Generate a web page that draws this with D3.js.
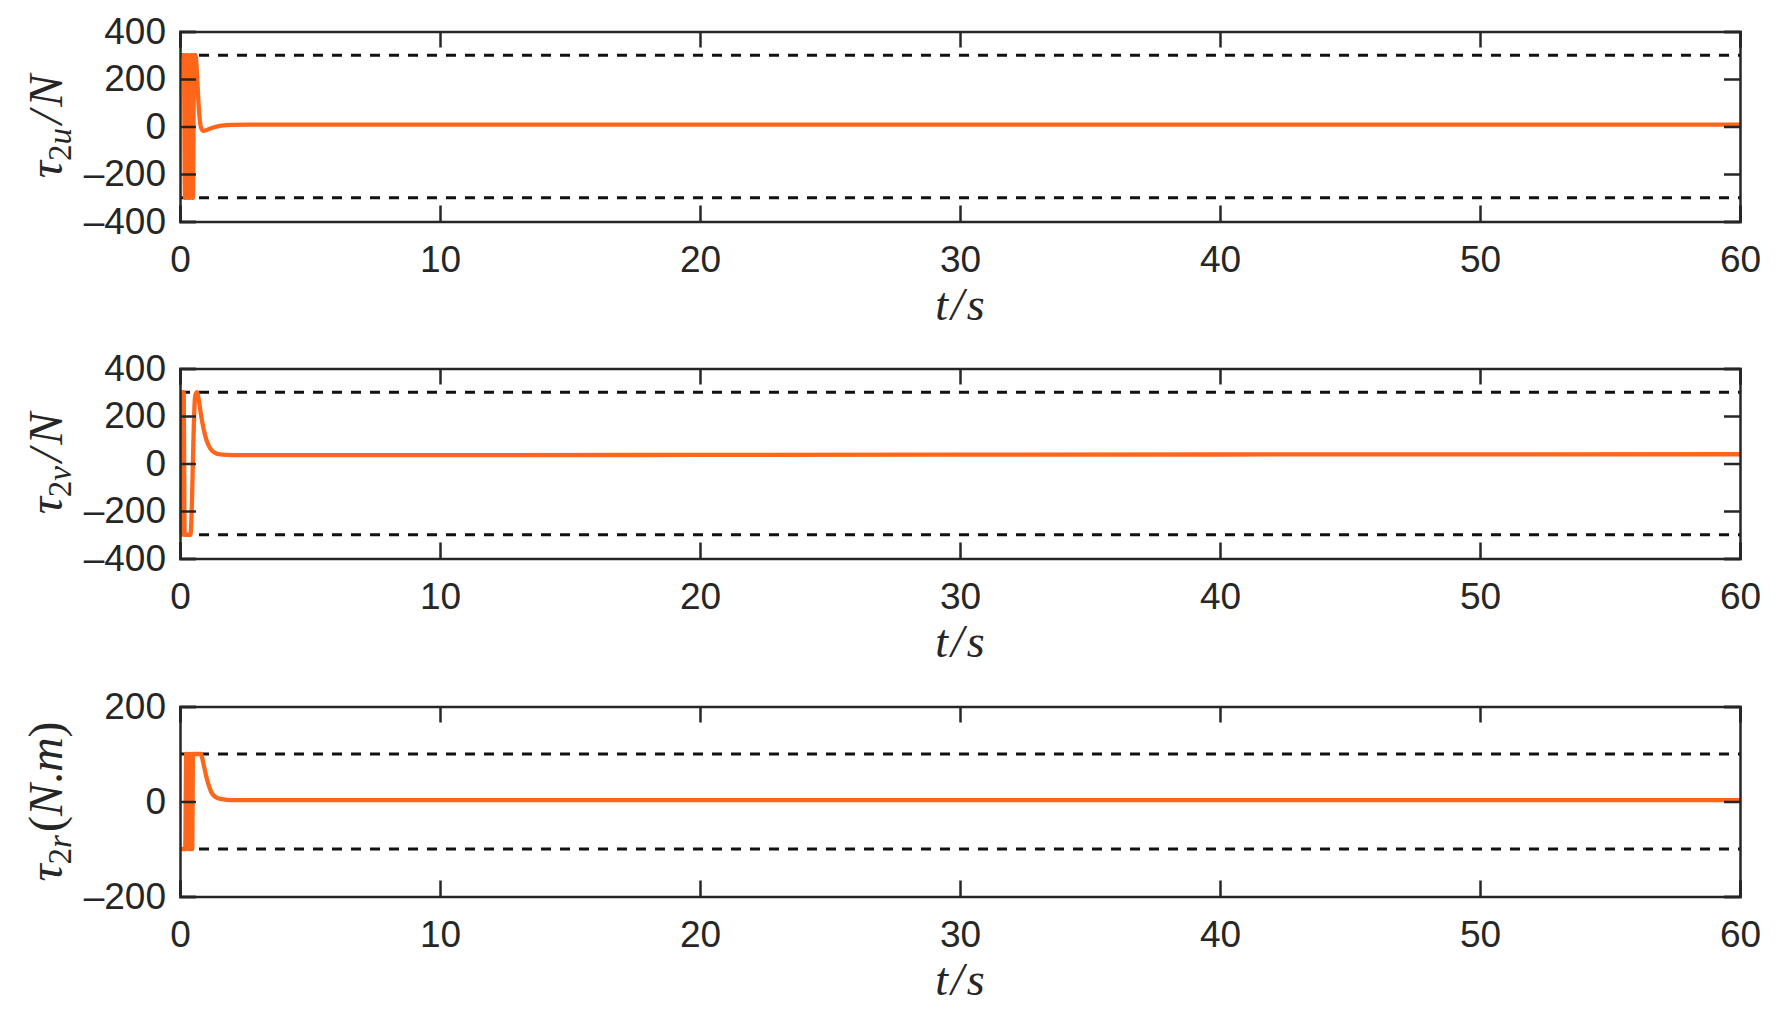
<!DOCTYPE html>
<html>
<head>
<meta charset="utf-8">
<script src="https://cdn.jsdelivr.net/npm/d3@7"></script>
<style>
  html, body { margin: 0; padding: 0; background: #fff; }
  svg { display: block; }
</style>
</head>
<body>
<svg id="chart" width="1776" height="1020"></svg>
<script>
// ---------------- data ----------------
const xTicks = [0, 10, 20, 30, 40, 50, 60];

// panel 1: tau_2u
const tU = [0, 0.15, 0.19, 0.23, 0.27, 0.3, 0.34, 0.38, 0.42, 0.45, 0.48, 0.5, 0.54, 0.6, 0.65, 0.7, 0.76, 0.82, 0.9, 1.0, 1.15, 1.35, 1.6, 2.0, 3.0, 60];
const vU = [300, 300, -300, -300, 300, 300, -300, -300, 300, 300, -300, -300, 300, 300, 230, 120, 30, -8, -18, -16, -9, -2, 4, 7, 8, 8];
const yTicksU = [-400, -200, 0, 200, 400];
const limU = [-300, 300];

// panel 2: tau_2v
const tV = [0, 0.05, 0.1, 0.14, 0.18, 0.24, 0.3, 0.4, 0.58, 0.65, 0.72, 0.8, 0.9, 1.0, 1.1, 1.2, 1.35, 1.55, 2.0, 20, 40, 60];
const vV = [-300, -300, 300, 300, -300, -300, -300, -300, 280, 300, 270, 210, 150, 105, 76, 58, 45, 38, 35, 36, 38, 39];
const yTicksV = [-400, -200, 0, 200, 400];
const limV = [-300, 300];

// panel 3: tau_2r
const tR = [0, 0.2, 0.24, 0.28, 0.32, 0.36, 0.4, 0.44, 0.47, 0.5, 0.8, 0.9, 1.0, 1.1, 1.2, 1.35, 1.6, 2.0, 60];
const vR = [-100, -100, 100, 100, -100, -100, 100, -100, -100, 100, 100, 80, 55, 35, 20, 10, 5, 3, 3];
const yTicksR = [-200, 0, 200];
const limR = [-100, 100];

// ---------------- layout ----------------
const svg = d3.select("#chart");
const left = 180, right = 1740, ph = 190;
const panels = [
  { top: 31.5, t: tU, v: vU, ticks: yTicksU, lim: limU, dom: [-400, 400], label: "u" },
  { top: 368.5, t: tV, v: vV, ticks: yTicksV, lim: limV, dom: [-400, 400], label: "v" },
  { top: 706.5, t: tR, v: vR, ticks: yTicksR, lim: limR, dom: [-200, 200], label: "r" }
];
const axisColor = "#262626";
const lineColor = "#ff661a";
const tickLen = 16;
const numFont = "'Liberation Sans', Arial, sans-serif";
const serif = "'Liberation Serif', 'Times New Roman', serif";

panels.forEach((p, i) => {
  const x = d3.scaleLinear().domain([0, 60]).range([left, right]);
  const y = d3.scaleLinear().domain(p.dom).range([p.top + ph, p.top]);
  const g = svg.append("g");

  // limit dashed lines
  p.lim.forEach(l => {
    g.append("line")
      .attr("x1", x(0)).attr("x2", x(60))
      .attr("y1", y(l)).attr("y2", y(l))
      .attr("stroke", "#111").attr("stroke-width", 3)
      .attr("stroke-dasharray", "10,9");
  });

  // data line
  const data = p.t.map((t, k) => [t, p.v[k]]);
  g.append("path")
    .datum(data)
    .attr("fill", "none")
    .attr("stroke", lineColor)
    .attr("stroke-width", 4.3)
    .attr("stroke-linejoin", "round")
    .attr("d", d3.line().x(d => x(d[0])).y(d => y(d[1])).curve(d3.curveMonotoneX));

  // axes: bottom, top, left, right
  const bottom = d3.axisBottom(x).tickValues(xTicks).tickSize(-tickLen).tickPadding(24).tickFormat(d3.format("d"));
  const top = d3.axisTop(x).tickValues(xTicks).tickSize(-tickLen).tickFormat("");
  const leftAx = d3.axisLeft(y).tickValues(p.ticks).tickSize(-tickLen).tickPadding(14).tickFormat(d => d < 0 ? "\u2013" + Math.abs(d) : d);
  const rightAx = d3.axisRight(y).tickValues(p.ticks).tickSize(-tickLen).tickFormat("");

  const axes = [
    g.append("g").attr("transform", `translate(0,${p.top + ph})`).call(bottom),
    g.append("g").attr("transform", `translate(0,${p.top})`).call(top),
    g.append("g").attr("transform", `translate(${left},0)`).call(leftAx),
    g.append("g").attr("transform", `translate(${right},0)`).call(rightAx)
  ];
  axes.forEach(a => {
    a.select(".domain").attr("stroke", axisColor).attr("stroke-width", 2.5);
    a.selectAll(".tick line").attr("stroke", axisColor).attr("stroke-width", 2.5);
    a.selectAll(".tick text").attr("fill", axisColor).attr("font-family", numFont).attr("font-size", 37);
  });

  // x label t/s
  const xl = g.append("text")
    .attr("x", x(30)).attr("y", p.top + ph + 98)
    .attr("text-anchor", "middle")
    .attr("font-family", serif).attr("font-size", 46).attr("font-style", "italic")
    .attr("fill", axisColor);
  xl.append("tspan").text("t");
  xl.append("tspan").attr("dx", 3).text("/");
  xl.append("tspan").attr("dx", 3).text("s");

  // y label
  const yl = g.append("text")
    .attr("transform", `translate(62,${p.top + ph / 2}) rotate(-90)`)
    .attr("text-anchor", "middle")
    .attr("font-family", serif).attr("font-size", 48)
    .attr("fill", axisColor);
  yl.append("tspan").attr("font-style", "italic").text("τ");
  yl.append("tspan").attr("font-size", 33).attr("dy", 9).text("2");
  yl.append("tspan").attr("font-size", 33).attr("font-style", "italic").text(p.label);
  if (p.label === "r") {
    yl.append("tspan").attr("dy", -9).attr("dx", 3).text("(");
    yl.append("tspan").attr("font-style", "italic").text("N");
    yl.append("tspan").text(".");
    yl.append("tspan").attr("font-style", "italic").text("m");
    yl.append("tspan").text(")");
  } else {
    yl.append("tspan").attr("dy", -9).attr("dx", 4).attr("font-style", "italic").text("/");
    yl.append("tspan").attr("dx", 4).attr("font-style", "italic").text("N");
  }
});
</script>
</body>
</html>
